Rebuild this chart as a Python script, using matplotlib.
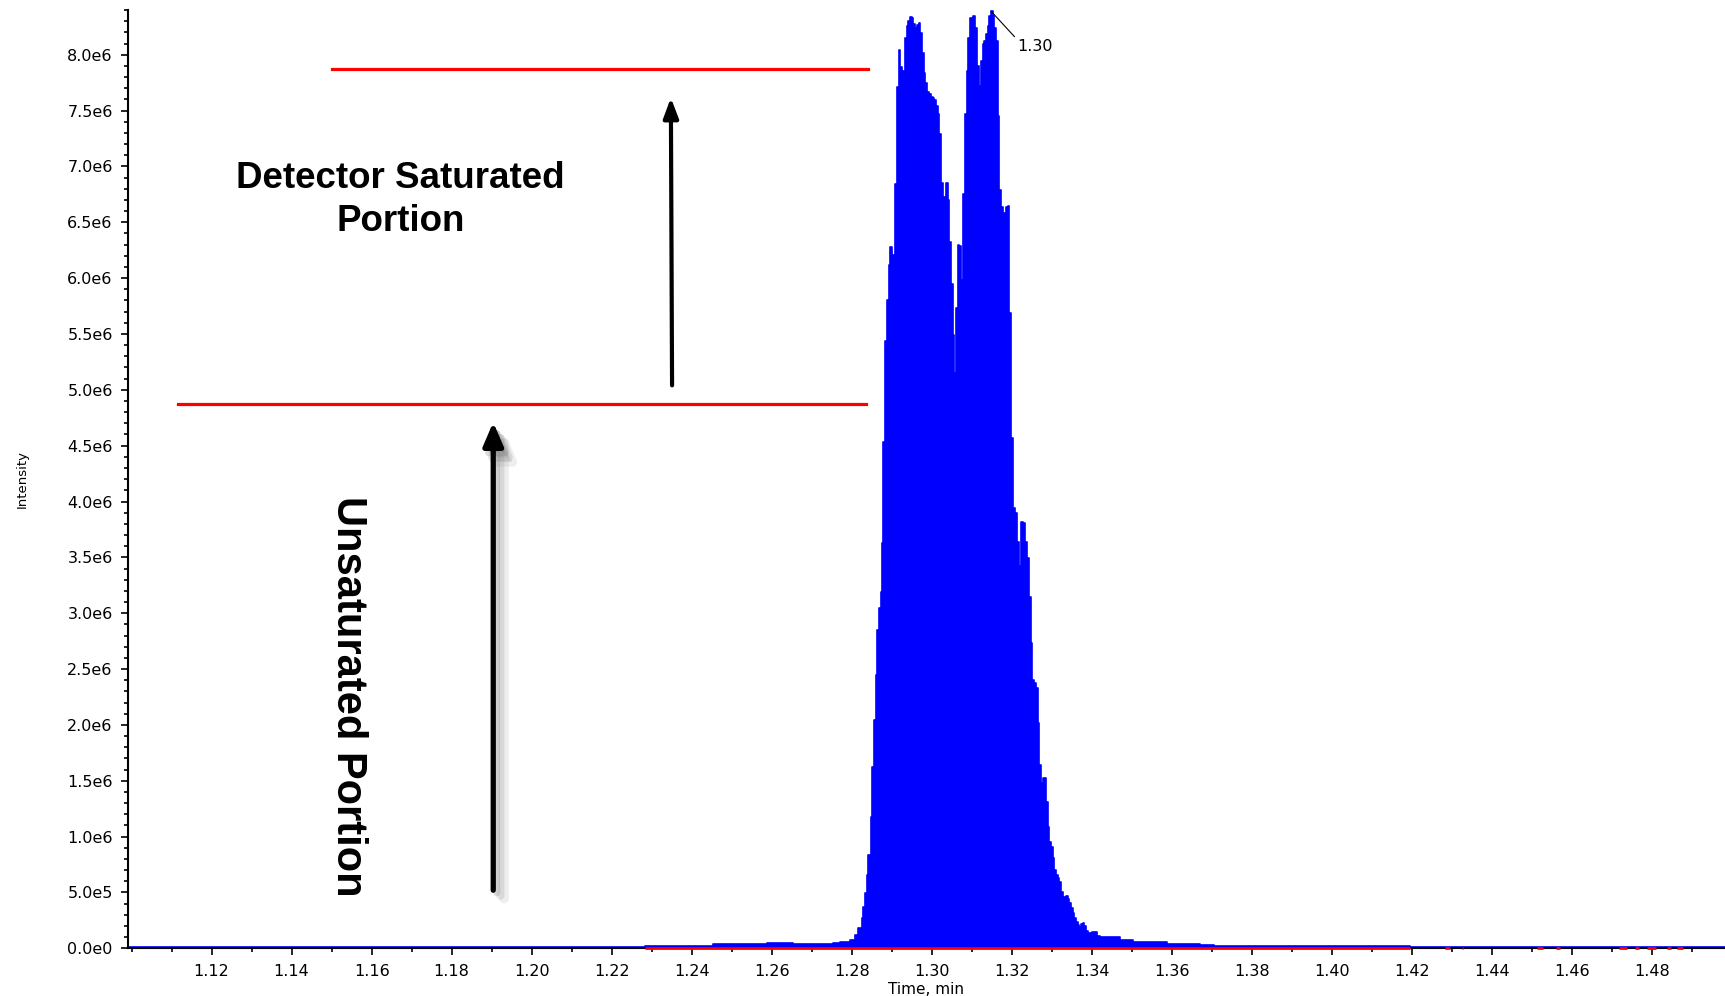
import numpy as np
import matplotlib
matplotlib.use("Agg")
import matplotlib.pyplot as plt
from matplotlib.ticker import MultipleLocator, FuncFormatter

# chromatogram trace (time in min, intensity in 1e6 counts)
time = [1.0991, 1.2283, 1.2454, 1.2589, 1.2653, 1.2753, 1.2771,
        1.27958, 1.28083, 1.28165, 1.2825, 1.2829, 1.28333, 1.28375, 1.28415,
        1.28475, 1.28515, 1.28558, 1.286, 1.2864, 1.28683, 1.28725, 1.28765,
        1.2879, 1.2884, 1.28883, 1.28933, 1.28965, 1.29008, 1.2905, 1.29083,
        1.29133, 1.29183, 1.29215, 1.29258, 1.293, 1.29333, 1.29375, 1.29415,
        1.29458, 1.295, 1.2954, 1.29583, 1.29625, 1.29675, 1.29715, 1.29758,
        1.298, 1.2984, 1.29883, 1.29925, 1.29975, 1.30025, 1.30065, 1.30108,
        1.3015, 1.3019, 1.30233, 1.30275, 1.30315, 1.30358, 1.304, 1.3044,
        1.30483, 1.30525, 1.30565, 1.30608, 1.3065, 1.3069, 1.30733, 1.3079,
        1.30833, 1.30875, 1.30915, 1.30958, 1.31025, 1.31075, 1.31125, 1.31165,
        1.3119, 1.31233, 1.31275, 1.31315, 1.31358, 1.314, 1.3144, 1.31483,
        1.31525, 1.31565, 1.31608, 1.3165, 1.3169, 1.31733, 1.31775, 1.31815,
        1.31858, 1.319, 1.3194, 1.31983, 1.32025, 1.32083, 1.3214, 1.32183,
        1.32233, 1.3229, 1.3234, 1.3239, 1.32433, 1.32475, 1.32515, 1.32558,
        1.32608, 1.3265, 1.3269, 1.32733, 1.32775, 1.32815, 1.32858, 1.329,
        1.3294, 1.32983, 1.33025, 1.33065, 1.33108, 1.3315, 1.3319, 1.33233,
        1.33275, 1.33315, 1.33358, 1.334, 1.3344, 1.33483, 1.33525, 1.33565,
        1.33608, 1.3365, 1.3369, 1.33733, 1.33775, 1.33815, 1.33858, 1.339,
        1.34, 1.34125, 1.34208, 1.34708, 1.35033, 1.35883, 1.36708, 1.3705,
        1.4196, 1.4983]
intensity = [0.008, 0.02, 0.038, 0.047, 0.038, 0.047, 0.06,
             0.074, 0.119, 0.182, 0.271, 0.369, 0.495, 0.656, 0.835,
             1.175, 1.622, 2.042, 2.445, 2.847, 3.044, 3.187, 3.626,
             4.529, 5.441, 5.808, 6.121, 6.282, 6.211, 6.085, 6.846,
             7.713, 8.044, 7.892, 7.857, 7.857, 8.152, 8.259, 8.304,
             8.340, 8.331, 8.277, 8.241, 8.268, 8.286, 8.197, 8.018,
             7.839, 7.750, 7.669, 7.651, 7.625, 7.616, 7.598, 7.544,
             7.473, 7.294, 6.856, 6.542, 6.730, 6.856, 6.695, 6.319,
             5.943, 5.487, 5.147, 5.737, 6.301, 6.292, 5.979, 6.757,
             7.473, 7.857, 8.152, 8.331, 8.349, 8.241, 7.884, 7.902,
             7.723, 7.946, 8.098, 8.125, 8.188, 8.259, 8.349, 8.393,
             8.349, 8.241, 8.125, 7.455, 6.785, 6.633, 6.517, 6.579,
             6.633, 6.642, 5.685, 4.567, 3.941, 3.896, 3.637, 3.422,
             3.816, 3.807, 3.637, 3.494, 3.145, 2.734, 2.403, 2.376,
             2.331, 2.018, 1.642, 1.481, 1.526, 1.526, 1.311, 1.088,
             0.951, 0.907, 0.809, 0.701, 0.656, 0.629, 0.594, 0.504,
             0.432, 0.459, 0.468, 0.441, 0.405, 0.360, 0.316, 0.271,
             0.235, 0.208, 0.191, 0.217, 0.226, 0.199, 0.155, 0.137,
             0.146, 0.110, 0.101, 0.074, 0.056, 0.038, 0.030, 0.02,
             0.01, 0.01]

# second (red) trace sitting on the baseline: start/end of each visible segment
red_start = [1.2283, 1.4284, 1.4325, 1.4513, 1.4561, 1.4717, 1.4758, 1.4787, 1.4837, 1.4862]
red_end = [1.4196, 1.4296, 1.4329, 1.4529, 1.4571, 1.4737, 1.4769, 1.4811, 1.4847, 1.4879]

saturation_level = 4.87   # 1e6
upper_level = 7.87        # 1e6
apex_time = 1.31483
apex_label = "1.30"

scale = 1e6
t = np.array(time)
y = np.array(intensity) * scale

fig = plt.figure(figsize=(17.25, 9.96), dpi=100)
ax = fig.add_axes([0.0742, 0.0479, 0.9258, 0.942])

ax.fill_between(t, y, step="post", color="#0000ff", lw=0, zorder=2)
ax.step(t, y, where="post", color="#0000ff", lw=1.2, zorder=2)

for a, b in zip(red_start, red_end):
    ax.plot([a, b], [0, 0], color="red", lw=2, zorder=3, clip_on=False, solid_capstyle="butt")

# saturation markers
ax.plot([1.1115, 1.2835], [saturation_level * scale] * 2, color="red", lw=2.3, zorder=4)
ax.plot([1.1500, 1.2840], [upper_level * scale] * 2, color="red", lw=2.3, zorder=4)

# lower arrow with a soft drop shadow
for k, a in [(3, 0.12), (2, 0.18), (1, 0.25)]:
    ax.annotate("", xy=(1.1904 + 0.0009 * k, 4.71 * scale - 0.025 * scale * k),
                xytext=(1.1904 + 0.0009 * k, 0.52 * scale - 0.025 * scale * k),
                arrowprops=dict(arrowstyle="-|>,head_length=1.4,head_width=0.6", color="#777777",
                                alpha=a, lw=3.8 + k, shrinkA=0, shrinkB=0),
                zorder=4)
ax.annotate("", xy=(1.1904, 4.71 * scale), xytext=(1.1904, 0.52 * scale),
            arrowprops=dict(arrowstyle="-|>,head_length=1.4,head_width=0.6", color="black", lw=3.8,
                            shrinkA=0, shrinkB=0),
            zorder=5)
ax.annotate("", xy=(1.2348, 7.615 * scale), xytext=(1.2351, 5.04 * scale),
            arrowprops=dict(arrowstyle="-|>,head_length=1.2,head_width=0.45", color="black", lw=3,
                            shrinkA=0, shrinkB=0),
            zorder=5)

ax.text(1.1672, 6.70 * scale, "Detector Saturated\nPortion", ha="center", va="center",
        fontsize=26.5, fontweight="bold", family="Liberation Sans", linespacing=1.32)
ax.text(1.1542, 2.257 * scale, "Unsaturated Portion", ha="center", va="center",
        rotation=-90, fontsize=30, fontweight="bold", family="Liberation Sans")

ax.annotate(apex_label, xy=(apex_time, 8.39 * scale), xytext=(1.3214, 8.07 * scale),
            fontsize=11.5, va="center", ha="left",
            arrowprops=dict(arrowstyle="-", color="black", lw=0.8, shrinkA=0, shrinkB=0,
                            relpos=(0.05, 0.85)))

ax.set_xlim(1.0991, 1.4983)
ax.set_ylim(0, 8.4 * scale)

ax.xaxis.set_minor_locator(MultipleLocator(0.01))
ax.yaxis.set_major_locator(MultipleLocator(0.5 * scale))
ax.yaxis.set_minor_locator(MultipleLocator(0.1 * scale))


def sci(v, pos):
    if v == 0:
        return "0.0e0"
    e = int(np.floor(np.log10(abs(v)) + 1e-9))
    return f"{v / 10 ** e:.1f}e{e}"


ax.yaxis.set_major_formatter(FuncFormatter(sci))
xt = [round(v, 2) for v in np.arange(1.12, 1.49, 0.02)]
ax.set_xticks(xt)
ax.set_xticklabels([f"{v:.2f}" for v in xt])

ax.tick_params(axis="both", which="major", direction="out", length=5, width=1.2,
               labelsize=11.5, pad=6)
ax.tick_params(axis="both", which="minor", direction="out", length=3, width=1.2)

for s in ["top", "right"]:
    ax.spines[s].set_visible(False)
ax.spines["left"].set_linewidth(1.5)
ax.spines["bottom"].set_linewidth(1.5)

ax.set_ylabel("Intensity", fontsize=9.5)
ax.yaxis.set_label_coords(-0.062, 0.5)
ax.set_xlabel("Time, min", fontsize=11)
ax.xaxis.set_label_coords(0.5, -0.036)

fig.savefig("out.png", dpi=100)
